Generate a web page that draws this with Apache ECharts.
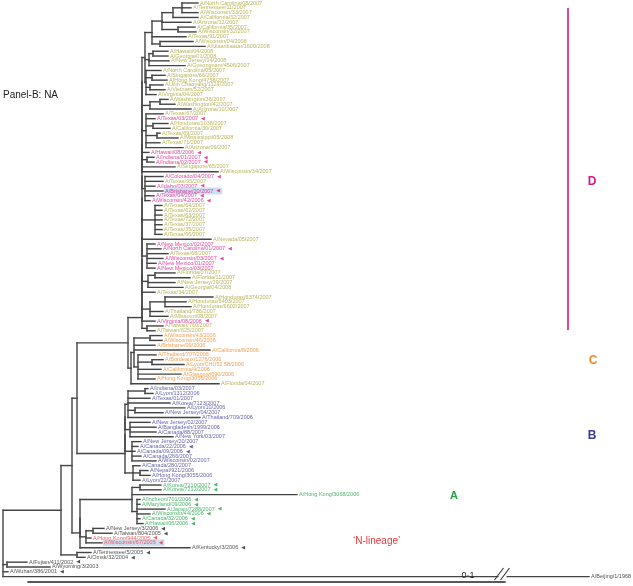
<!DOCTYPE html>
<html><head><meta charset="utf-8">
<script src="https://cdn.jsdelivr.net/npm/echarts/dist/echarts.min.js"></script>
<style>html,body{margin:0;padding:0;background:#fff;overflow:hidden}#c{width:633px;height:586px}</style>
</head><body><div id="c"></div>
<script>
// ================= DATA =================
// Tree topology (Newick) with branch lengths in tree units (477 units = 0.1 substitutions/site)
const dTop1 = "((((A/North Carolina/08/2007:16,A/Tennessee/11/2007:9,A/Wisconsin/33/2007:16):9,A/California/32/2007:25):11,A/Arizona/12/2007:29,(A/California/35/2007:17,A/Wisconsin/32/2007:18):16):10,A/Texas/91/2007:34,(A/Wisconsin/04/2008:33,A/Ulaanbaatar/1600/2008:45):8):7";
const dTop2 = "((A/Hawaii/04/2008:15,A/Georgia/01/2008:15):4,A/New Jersey/14/2008:20,A/Gyeongnam/4506/2007:36):4";
const dTop3 = "(A/North Carolina/05/2007:15,(A/Singapore/66/2007:13,A/Hong Kong/4758/2007:15):6,(A/Jilin Chaoyang/1124/2007:13,A/Vietnam/52/2007:15):4,A/Virginia/04/2007:10):1";
const cladeDParts = [
  "(" + dTop1 + "," + dTop2 + "," + dTop3 + "):3",
  "((A/Washington/36/2007:8,A/Washington/42/2007:15):10,A/Arizona/10/2007:41):8",
  "(A/Texas/67/2007:17,A/Texas/03/2007:9,(A/Honduras/1038/2007:15,A/California/30/2007:17):7,(A/Texas/69/2007:3,A/Mississippi/05/2008:21):11,A/Texas/71/2007:14,A/Arizona/09/2007:37):4",
  "A/Hawaii/08/2006:7",
  "(A/Indiana/01/2007:7,A/Indiana/02/2007:7):5",
  "A/Singapore/65/2007:33",
  "A/Wisconsin/34/2007:76",
  "(A/Colorado/04/2007:18,A/Texas/95/2007:18,A/Idaho/03/2007:10,A/Brisbane/10/2007:18,A/Texas/04/2007:9,A/Wisconsin/42/2006:5):3",
  "(A/Texas/64/2007:7,A/Texas/62/2007:7,A/Texas/63/2007:7,A/Texas/72/2007:7,A/Texas/37/2007:7,A/Texas/35/2007:7,A/Texas/66/2007:7):13",
  "A/Nevada/05/2007:69",
  "(A/New Mexico/02/2007:8,A/North Carolina/01/2007:14,A/Texas/68/2007:21,A/Wisconsin/03/2007:16,A/New Mexico/01/2007:9,A/New Mexico/03/2007:8):5",
  "((A/Florida/07/2007:20,A/Florida/11/2007:35):7,A/New Jersey/19/2007:27,A/Georgia/04/2008:35):6",
  "A/Texas/34/2007:13",
  "((A/Honduras/6374/2007:48,A/Honduras/6403/2007:21,A/Honduras/6602/2007:26):15,A/Thailand/786/2007:13,A/Missouri/08/2007:18):8",
  "A/Virginia/08/2006:13",
  "(A/Taiwan/760/2007:16,A/Taiwan/625/2007:8):5"
];
const cladeC = "((A/Wisconsin/43/2006:12,A/Wisconsin/46/2006:12):16,A/Brisbane/09/2006:21,A/California/8/2006:76,(A/Thailand/707/2006:18,(A/Bordeaux/1276/2006:11,A/Lyon/CHU52.58/2006:32):14,A/California/4/2006:23,A/Glasgow/690/2006:43,A/Hong Kong/3056/2006:17):4)C:3";
const floridaTip = "A/Florida/04/2007:88";
const cladeBParts = [
  "((A/Indiana/03/2007:3,A/Lyon/1312/2006:8):17,A/Texas/01/2007:22,A/Korea/7123/2007:42,(A/Lyon/10/2006:50,A/New Jersey/04/2007:28):7,A/Thailand/709/2006:72):3",
  "(A/New Jersey/02/2007:20,A/Bangladesh/1999/2006:26,A/Canada/88/2007:26,A/New York/03/2007:43):5",
  "(A/New Jersey/20/2007:9,A/Canada/22/2006:6,A/Canada/09/2006:3,A/Canada/266/2007:9,A/Wisconsin/02/2007:24):7",
  "(A/Canada/280/2007:7,(A/Nepal/921/2006:8,A/Hong Kong/3055/2006:10):7,A/Lyon/22/2007:7):8"
];
const cladeA = "((A/Korea/7210/2007:21,A/Korea/7212/2007:21):8,A/Hong Kong/3068/2006:165,(A/Incheon/701/2006:3,A/Maryland/09/2006:3,A/Japan/7288/2007:28,A/Wisconsin/44/2006:13,A/Canada/32/2006:3,A/Hawaii/06/2006:6):5)A:52";
const nLineage = "((A/New Jersey/3/2006:11,A/Taiwan/804/2005:19):7,A/Hong Kong/944/2005:5,A/Wisconsin/67/2005:16):6";
const kentuckyTip = "A/Kentucky/3/2006:110";
const tennOmsk = "(A/Tennessee/5/2005:14,A/Omsk/32/2004:8):16";
const basalTips = "(A/Fujian/411/2002:20,A/Wyoming/3/2003:43):4,A/Wuhan/386/2001:5,A/Beijing/1/1968:586";

const magentaTips = ["A/Texas/03/2007","A/Hawaii/08/2006","A/Indiana/01/2007","A/Indiana/02/2007","A/Colorado/04/2007","A/Idaho/03/2007","A/Brisbane/10/2007","A/Texas/04/2007","A/Wisconsin/42/2006","A/New Mexico/02/2007","A/North Carolina/01/2007","A/Wisconsin/03/2007","A/New Mexico/01/2007","A/New Mexico/03/2007","A/Virginia/08/2006"];
const redTips = ["A/Hong Kong/944/2005","A/Wisconsin/67/2005"];
const oliveTips = ["A/Florida/04/2007"];
const arrowTips = ["A/Texas/03/2007","A/Hawaii/08/2006","A/Indiana/01/2007","A/Indiana/02/2007","A/Colorado/04/2007","A/Idaho/03/2007","A/Brisbane/10/2007","A/Texas/04/2007","A/Wisconsin/42/2006","A/North Carolina/01/2007","A/Wisconsin/03/2007","A/Virginia/08/2006","A/Canada/22/2006","A/Canada/09/2006","A/Korea/7210/2007","A/Korea/7212/2007","A/Incheon/701/2006","A/Maryland/09/2006","A/Japan/7288/2007","A/Wisconsin/44/2006","A/Canada/32/2006","A/Hawaii/06/2006","A/New Jersey/3/2006","A/Taiwan/804/2005","A/Hong Kong/944/2005","A/Wisconsin/67/2005","A/Kentucky/3/2006","A/Tennessee/5/2005","A/Omsk/32/2004","A/Fujian/411/2002","A/Wuhan/386/2001"];
const highlightTips = ["A/Brisbane/10/2007","A/Wisconsin/67/2005"];
// scale bar: 0.1 substitutions/site = 477 tree units, drawn from tree unit 25
const scaleBarValue = 0.1, scaleBarUnits = 477, scaleBarStart = 25;

// ================= STYLE =================
const COL = {D:'#a9a232', C:'#ee8a2c', B:'#3b3a96', A:'#22a346', none:'#1e1e1e', magenta:'#d6198a', red:'#e8363c'};
const FONT = '"Liberation Sans", Arial, sans-serif';

// ================= BUILD TREE =================
function ladder(parts){ let s = parts[0]; for (let k=1;k<parts.length;k++){ s = '(' + s + ',' + parts[k] + ')' + (k<parts.length-1 ? ':0' : ''); } return s; }
const cladeD = ladder(cladeDParts) + "D:14";
const cladeB = ladder(cladeBParts) + "B:48";
const newick = "((((" + "(" + cladeD + ",(" + cladeC + "," + floridaTip + "):3):51," + cladeB + "):5,((" + cladeA + "," + nLineage + "):0," + kentuckyTip + "):8):11," + tennOmsk + "):58," + basalTips + ");";

function parseNewick(s){
  let i = 0;
  function node(){
    const n = {children:[], name:'', len:0};
    if (s[i] === '('){ i++; n.children.push(node()); while (s[i] === ','){ i++; n.children.push(node()); } i++; }
    let name=''; while (i<s.length && ':,);'.indexOf(s[i])<0) name += s[i++];
    n.name = name.trim();
    if (s[i] === ':'){ i++; let num=''; while (i<s.length && ',);'.indexOf(s[i])<0) num += s[i++]; n.len = parseFloat(num); }
    return n;
  }
  return node();
}
const root = parseNewick(newick);
const tips = []; const segs = [];
let tipCount = 0;
function layout(n, px, group){
  n.x = px + n.len;
  if (['A','B','C','D'].indexOf(n.name) >= 0) group = n.name;
  n.group = group;
  if (!n.children.length){ n.y = tipCount++; tips.push(n); }
  else {
    n.children.forEach(c => layout(c, n.x, group));
    n.y = (n.children[0].y + n.children[n.children.length-1].y)/2;
    segs.push([n.x, n.children[0].y, n.x, n.children[n.children.length-1].y]);
  }
  segs.push([px, n.y, n.x, n.y]);
}
layout(root, 0, 'none');
const scaleRow = tipCount + 0.12;

function tipColor(t){
  if (magentaTips.indexOf(t.name)>=0) return COL.magenta;
  if (redTips.indexOf(t.name)>=0) return COL.red;
  if (oliveTips.indexOf(t.name)>=0) return COL.D;
  return COL[t.group];
}
const labelData = tips.map(t => {
  const c = tipColor(t);
  const arrow = arrowTips.indexOf(t.name)>=0;
  const hi = highlightTips.indexOf(t.name)>=0;
  return {
    value:[t.x, t.y], name:t.name,
    label:{
      color:c,
      formatter: '{n|' + t.name + '}' + (arrow ? '{a|\u25C0}' : ''),
      rich:{ n:{color:c, fontSize:5.5, fontFamily:FONT}, a:{color:c, fontSize:5, fontFamily:'DejaVu Sans', padding:[0,0,0,3]} },
      backgroundColor: hi ? '#c6d5ee' : 'transparent',
      padding: hi ? [0.5,2,0.5,1] : 0,
      distance: hi ? 1 : 2
    }
  };
});

const lineRender = function(width, color){
  return function(params, api){
    const a = api.coord([api.value(0), api.value(1)]);
    const b = api.coord([api.value(2), api.value(3)]);
    return {type:'line', shape:{x1:a[0],y1:a[1],x2:b[0],y2:b[1]}, style:{stroke:color, lineWidth:width, lineCap:'square'}};
  };
};

const chart = echarts.init(document.getElementById('c'), null, {renderer:'canvas'});
chart.setOption({
  animation:false,
  grid:{left:0,right:0,top:0,bottom:0},
  xAxis:{type:'value', min:-3, max:630, show:false},
  yAxis:{type:'value', inverse:true, min:-0.622, max:120.95, show:false},
  series:[
    {type:'custom', coordinateSystem:'cartesian2d', data:segs, encode:{x:[0,2], y:[1,3]}, silent:true, clip:false,
     renderItem:lineRender(1.4, '#444')},
    {type:'custom', coordinateSystem:'cartesian2d', data:[[scaleBarStart, scaleRow, scaleBarStart + scaleBarUnits, scaleRow]],
     encode:{x:[0,2], y:[1,3]}, silent:true, clip:false, z:5, renderItem:lineRender(1.3, '#222')},
    {type:'scatter', data:labelData, symbolSize:0.1, itemStyle:{color:'rgba(0,0,0,0)'}, silent:true,
     label:{show:true, position:'right', distance:2, fontSize:5.5, fontFamily:FONT}}
  ],
  graphic:[
    {type:'text', x:3, y:95, z:10, style:{text:'Panel-B: NA', fill:'#222', font:'10px '+FONT, verticalAlign:'middle', textVerticalAlign:'middle'}},
    {type:'rect', z:10, shape:{x:567.2,y:8,width:1.6,height:322}, style:{fill:COL.magenta}},
    {type:'text', x:592, y:182, z:10, style:{text:'D', fill:COL.magenta, font:'bold 12px '+FONT, align:'center', verticalAlign:'middle', textAlign:'center', textVerticalAlign:'middle'}},
    {type:'text', x:593, y:361, z:10, style:{text:'C', fill:COL.C, font:'bold 12px '+FONT, align:'center', verticalAlign:'middle', textAlign:'center', textVerticalAlign:'middle'}},
    {type:'text', x:592, y:436, z:10, style:{text:'B', fill:COL.B, font:'bold 12px '+FONT, align:'center', verticalAlign:'middle', textAlign:'center', textVerticalAlign:'middle'}},
    {type:'text', x:454, y:496, z:10, style:{text:'A', fill:COL.A, font:'bold 11px '+FONT, align:'center', verticalAlign:'middle', textAlign:'center', textVerticalAlign:'middle'}},
    {type:'text', x:353, y:541, z:10, style:{text:'\u2018N-lineage\u2019', fill:COL.red, font:'10px '+FONT, verticalAlign:'middle', textVerticalAlign:'middle'}},
    {type:'rect', z:10, shape:{x:498.5,y:572,width:8,height:8}, style:{fill:'#fff'}},
    {type:'line', z:11, shape:{x1:494.5,y1:580,x2:503.5,y2:568}, style:{stroke:'#333', lineWidth:1.1}},
    {type:'line', z:11, shape:{x1:500.5,y1:580,x2:509.5,y2:568}, style:{stroke:'#333', lineWidth:1.1}},
    {type:'text', x:468, y:576, z:10, style:{text:String(scaleBarValue).replace('.', '\u00B7'), fill:'#222', font:'9px '+FONT, align:'center', verticalAlign:'middle', textAlign:'center', textVerticalAlign:'middle'}}
  ]
});
</script></body></html>
